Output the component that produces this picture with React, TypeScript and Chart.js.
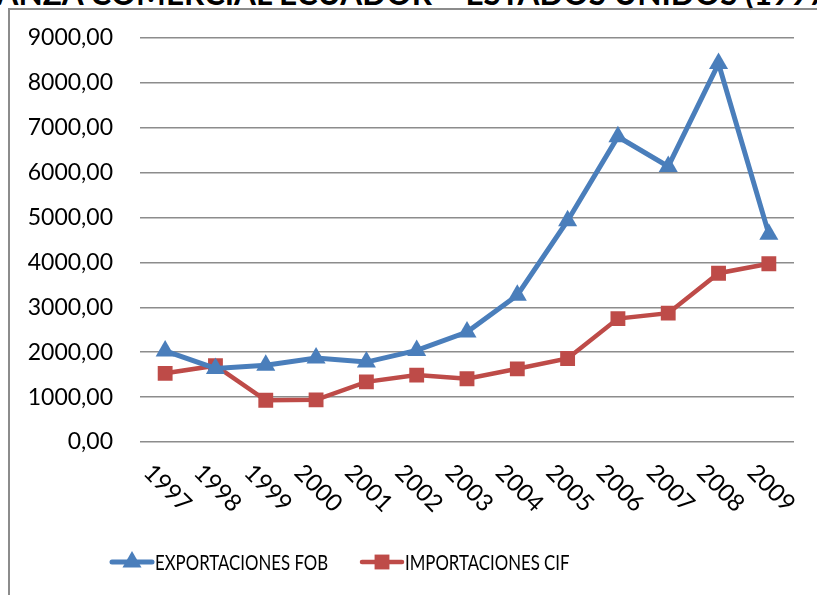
import React, { useEffect, useRef } from "react";
import { Chart, registerables } from "chart.js";

Chart.register(...registerables);

const years = ["1997", "1998", "1999", "2000", "2001", "2002", "2003", "2004", "2005", "2006", "2007", "2008", "2009"];
const exportaciones = [2030, 1640, 1710, 1870, 1780, 2040, 2450, 3270, 4930, 6800, 6140, 8430, 4630];
const importaciones = [1530, 1700, 930, 940, 1340, 1490, 1410, 1630, 1860, 2750, 2870, 3760, 3970];
const seriesLabels = ["EXPORTACIONES FOB", "IMPORTACIONES CIF"];
const titleText = "BALANZA COMERCIAL ECUADOR – ESTADOS UNIDOS (1997-2009)";

const BLUE = "#4a7ebb";
const RED = "#be4b48";
const FONT = "Lato, 'Noto Sans', sans-serif";

function drawMarker(ctx: CanvasRenderingContext2D, style: string, x: number, y: number, r: number, color: string) {
  ctx.fillStyle = color;
  ctx.beginPath();
  if (style === "triangle") {
    ctx.moveTo(x, y - r);
    ctx.lineTo(x + r * 0.866, y + r / 2);
    ctx.lineTo(x - r * 0.866, y + r / 2);
    ctx.closePath();
  } else {
    const s = r * Math.SQRT1_2;
    ctx.rect(x - s, y - s, 2 * s, 2 * s);
  }
  ctx.fill();
}

const xLabelsPlugin = {
  id: "xLabels",
  afterDraw(chart: any) {
    const { ctx, scales, chartArea } = chart;
    const x = scales.x;
    ctx.save();
    ctx.font = `24px ${FONT}`;
    ctx.fillStyle = "#000";
    ctx.textAlign = "left";
    ctx.textBaseline = "top";
    years.forEach((lab, i) => {
      const px = x.getPixelForValue(i);
      ctx.save();
      ctx.translate(px - 9, chartArea.bottom + 18);
      ctx.rotate(Math.PI / 4);
      ctx.fillText(lab, 0, 0);
      ctx.restore();
    });
    ctx.restore();
  },
};

const legendPlugin = {
  id: "customLegend",
  afterDraw(chart: any) {
    const { ctx, chartArea } = chart;
    const y = chartArea.bottom + 120;
    const starts = [102, 352];
    ctx.save();
    ctx.font = `21px ${FONT}`;
    ctx.textAlign = "left";
    ctx.textBaseline = "middle";
    chart.data.datasets.forEach((ds: any, i: number) => {
      const x0 = starts[i];
      ctx.strokeStyle = ds.borderColor;
      ctx.lineWidth = ds.borderWidth;
      ctx.lineCap = "round";
      ctx.beginPath();
      ctx.moveTo(x0, y);
      ctx.lineTo(x0 + 40, y);
      ctx.stroke();
      drawMarker(ctx, ds.pointStyle, x0 + 20, y, ds.pointRadius, ds.backgroundColor);
      ctx.fillStyle = "#000";
      ctx.save();
      ctx.translate(x0 + 43, y + 1);
      ctx.scale(0.8, 1);
      ctx.fillText(ds.label, 0, 0);
      ctx.restore();
    });
    ctx.restore();
  },
};

export default function App() {
  const ref = useRef<HTMLCanvasElement>(null);
  useEffect(() => {
    if (!ref.current) return;
    const chart = new Chart(ref.current, {
      type: "line",
      data: {
        labels: years,
        datasets: [
          {
            label: seriesLabels[0],
            data: exportaciones,
            borderColor: BLUE,
            backgroundColor: BLUE,
            borderWidth: 5,
            pointStyle: "triangle",
            pointRadius: 11,
            pointHoverRadius: 11,
            pointBorderWidth: 0,
            tension: 0,
          },
          {
            label: seriesLabels[1],
            data: importaciones,
            borderColor: RED,
            backgroundColor: RED,
            borderWidth: 4.5,
            pointStyle: "rect",
            pointRadius: 10.5,
            pointHoverRadius: 10.5,
            pointBorderWidth: 0,
            tension: 0,
          },
        ],
      },
      options: {
        animation: false,
        responsive: false,
        maintainAspectRatio: false,
        layout: { padding: { left: 0, top: 28, right: 23, bottom: 153 } },
        plugins: { legend: { display: false }, tooltip: { enabled: false }, title: { display: false } },
        scales: {
          x: {
            offset: true,
            grid: { display: false },
            border: { display: false },
            ticks: { display: false },
            afterFit: (s: any) => {
              s.height = 0;
            },
          },
          y: {
            min: 0,
            max: 9000,
            grid: { color: "#8c8c8c", lineWidth: 1.5, drawTicks: false },
            border: { display: false },
            ticks: {
              stepSize: 1000,
              padding: 27,
              color: "#000",
              font: { family: FONT, size: 23 },
              callback: (v: any) => Number(v).toFixed(2).replace(".", ","),
            },
            afterFit: (s: any) => {
              s.width = 130;
              s.paddingTop = 14;
              s.paddingBottom = 14;
            },
          },
        },
      },
      plugins: [xLabelsPlugin, legendPlugin],
    });
    return () => chart.destroy();
  }, []);

  return (
    <div style={{ position: "fixed", left: 0, top: 0, width: 817, height: 595, overflow: "hidden", background: "#fff" }}>
      <div
        style={{
          position: "absolute",
          left: -62,
          top: -21,
          whiteSpace: "nowrap",
          fontFamily: FONT,
          fontWeight: 700,
          fontSize: 31.5,
          lineHeight: "28px",
          color: "#000",
        }}
      >
        {titleText}
      </div>
      <div
        style={{
          position: "absolute",
          left: 8,
          top: 8,
          width: 900,
          height: 700,
          borderLeft: "2px solid #8c8c8c",
          borderTop: "2px solid #8c8c8c",
          boxSizing: "border-box",
        }}
      />
      <canvas ref={ref} width={807} height={585} style={{ position: "absolute", left: 10, top: 10, width: 807, height: 585 }} />
    </div>
  );
}
